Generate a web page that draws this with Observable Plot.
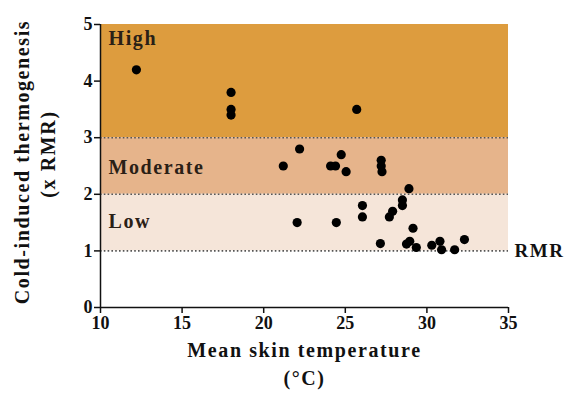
<!DOCTYPE html>
<html>
<head>
<meta charset="utf-8">
<script src="https://cdn.jsdelivr.net/npm/d3@7"></script>
<script src="https://cdn.jsdelivr.net/npm/@observablehq/plot@0.6"></script>
<style>
  html, body { margin: 0; padding: 0; background: #fff; }
</style>
</head>
<body>
<div id="chart"></div>
<script>
// Data
const skinTemp = [
  12.2, 18.0, 18.0, 18.0, 25.7,
  22.2, 21.2, 24.1, 24.4, 24.75, 25.05, 27.2, 27.2, 27.25, 28.9,
  22.05, 24.45, 26.05, 26.05, 28.5, 28.5, 27.9, 27.7, 29.15,
  27.15, 28.75, 28.95, 29.35, 30.3, 30.8, 30.9, 31.7, 32.3
];
const thermogenesis = [
  4.2, 3.8, 3.5, 3.4, 3.5,
  2.8, 2.5, 2.5, 2.5, 2.7, 2.4, 2.6, 2.5, 2.4, 2.1,
  1.5, 1.5, 1.8, 1.6, 1.9, 1.8, 1.7, 1.6, 1.4,
  1.13, 1.12, 1.17, 1.06, 1.1, 1.17, 1.02, 1.02, 1.2
];

const bandNames = ["High", "Moderate", "Low"];
const bandLower = [3, 2, 1];
const bandUpper = [5, 3, 2];
const bandColors = ["#dd9c3e", "#e6b48b", "#f5e5d9"];
const bandLabelY = [4.75, 2.47, 1.52];
const thresholdLines = [1, 2, 3];

const xTicks = [10, 15, 20, 25, 30, 35];
const yTicks = [0, 1, 2, 3, 4, 5];

const points = skinTemp.map((t, i) => ({t, v: thermogenesis[i]}));
const bands = bandNames.map((name, i) => ({
  name, lo: bandLower[i], hi: bandUpper[i], color: bandColors[i], ly: bandLabelY[i]
}));

const font = "'Liberation Serif', 'DejaVu Serif', serif";

const chart = Plot.plot({
  width: 570,
  height: 401,
  marginLeft: 100,
  marginRight: 62,
  marginTop: 24,
  marginBottom: 94,
  style: {fontFamily: font, color: "#111", background: "#fff"},
  x: {domain: [10, 35]},
  y: {domain: [0, 5]},
  marks: [
    Plot.rect(bands, {x1: 10, x2: 35, y1: "lo", y2: "hi", fill: "color"}),
    Plot.ruleY(thresholdLines, {x1: 10, x2: 35, stroke: "#555", strokeWidth: 1.6, strokeDasharray: "1.6,2.2"}),
    Plot.text(bands, {x: 10, y: "ly", text: "name", textAnchor: "start", dx: 8, fontSize: 20, fontWeight: "bold", fill: "#2a2016"}),
    Plot.text(["RMR"], {x: 35, y: 1, dx: 6, textAnchor: "start", fontSize: 19, fontWeight: "bold", fill: "#111"}),
    Plot.dot(points, {x: "t", y: "v", r: 4.6, fill: "#000", stroke: "none"}),
    Plot.ruleX([10], {y1: 0, y2: 5, stroke: "#111", strokeWidth: 1.5}),
    Plot.ruleY([0], {x1: 10, x2: 35, stroke: "#111", strokeWidth: 1.5}),
    Plot.axisX({ticks: xTicks, tickSize: 6, tickPadding: 3, fontSize: 18, fontWeight: "bold", label: null, strokeWidth: 1.5, tickFormat: "d"}),
    Plot.axisY({ticks: yTicks, tickSize: 6, tickPadding: 2, fontSize: 18, fontWeight: "bold", label: null, strokeWidth: 1.5, tickFormat: "d"}),
    Plot.text(["Mean skin temperature"], {frameAnchor: "bottom", dy: 49, fontSize: 20, fontWeight: "bold"}),
    Plot.text(["(°C)"], {frameAnchor: "bottom", dy: 77, fontSize: 20, fontWeight: "bold"}),
    Plot.text(["Cold-induced thermogenesis"], {frameAnchor: "left", textAnchor: "middle", dx: -78, dy: -4, rotate: -90, fontSize: 20, fontWeight: "bold"}),
    Plot.text(["(x RMR)"], {frameAnchor: "left", textAnchor: "middle", dx: -52, dy: -12, rotate: -90, fontSize: 20, fontWeight: "bold"})
  ]
});
// widen the serif lettering a little, as in the reference's Palatino-like face
d3.select(chart).selectAll('g[aria-label="text"] text').style("letter-spacing", "1.6px");
document.getElementById("chart").appendChild(chart);
</script>
</body>
</html>
